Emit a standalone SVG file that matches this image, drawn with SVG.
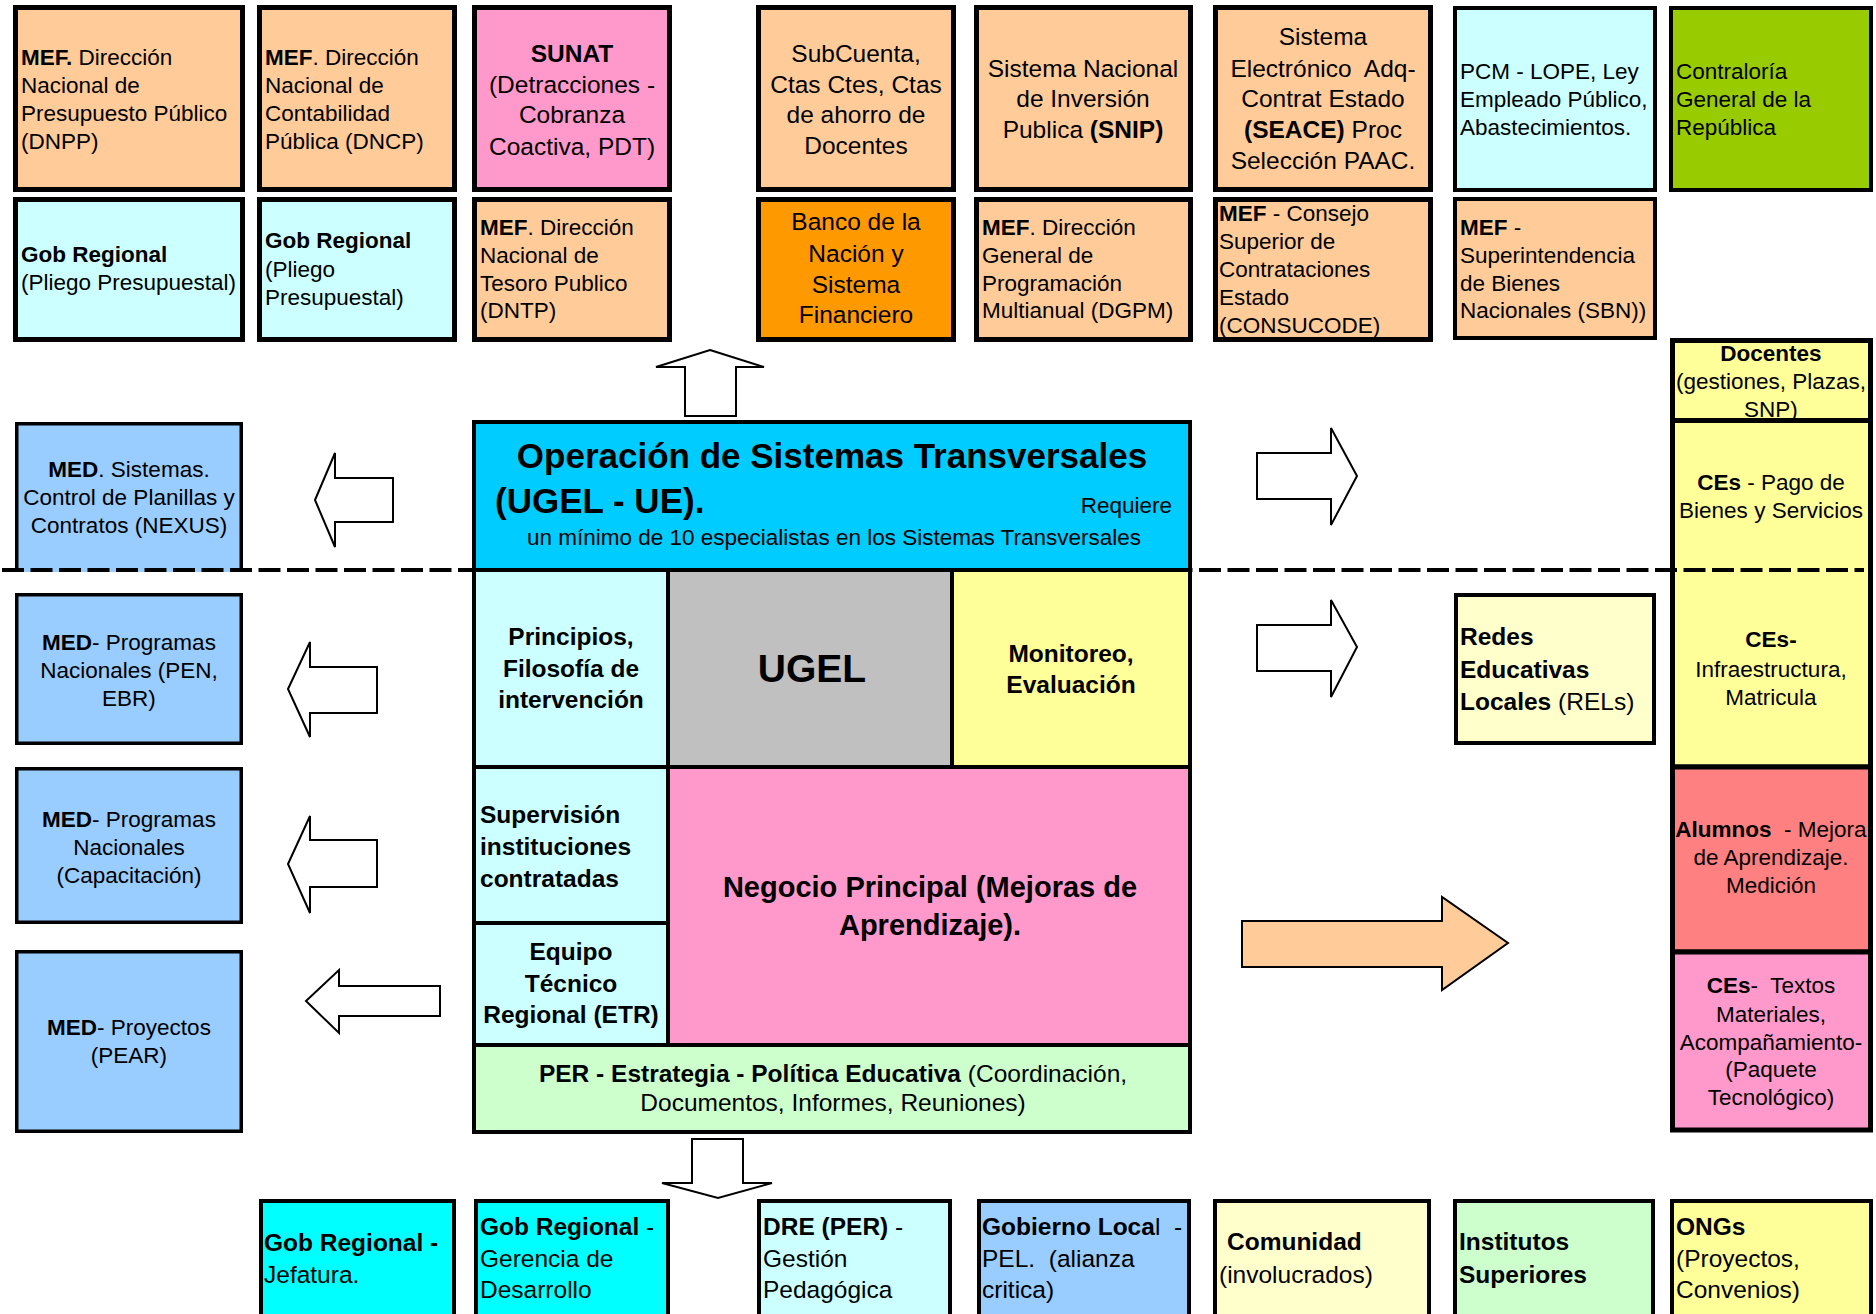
<svg xmlns="http://www.w3.org/2000/svg" width="1876" height="1314" viewBox="0 0 1876 1314">
<style>
text{font-family:"Liberation Sans",Arial,sans-serif;fill:#000}
.s{font-size:22.5px}.m{font-size:24.5px}.b{font-weight:bold}
.c{text-anchor:middle}.r{text-anchor:end}
.k5{stroke:#000;stroke-width:5}.k4{stroke:#000;stroke-width:4}.k3{stroke:#000;stroke-width:3.5}
.peach{fill:#FFCC99}.lcyan{fill:#CCFFFF}.pink{fill:#FF99CC}.orange{fill:#FF9900}.green{fill:#99CC00}
.lblue{fill:#99CCFF}.cyan{fill:#00CCFF}.gray{fill:#C0C0C0}.yel{fill:#FFFF99}.lgreen{fill:#CCFFCC}
.salmon{fill:#FF8080}.aqua{fill:#00FFFF}.lyel{fill:#FFFFCC}
.arr{fill:#fff;stroke:#000;stroke-width:2}
.pre{white-space:pre}
</style>

<!-- Top row -->
<g id="dnpp"><rect class="k5 peach" x="15.5" y="7.5" width="227" height="182"/>
<text class="s" x="21" y="65"><tspan class="b">MEF.</tspan> Dirección</text><text class="s" x="21" y="93">Nacional de</text><text class="s" x="21" y="121">Presupuesto Público</text><text class="s" x="21" y="149">(DNPP)</text></g>
<g id="gobreg1"><rect class="k5 lcyan" x="15.5" y="199.5" width="227" height="140"/>
<text class="s b" x="21" y="262">Gob Regional</text><text class="s" x="21" y="290">(Pliego Presupuestal)</text></g>

<g id="dncp"><rect class="k5 peach" x="259.5" y="7.5" width="195" height="182"/>
<text class="s" x="265" y="65"><tspan class="b">MEF</tspan>. Dirección</text><text class="s" x="265" y="93">Nacional de</text><text class="s" x="265" y="121">Contabilidad</text><text class="s" x="265" y="149">Pública (DNCP)</text></g>
<g id="gobreg2"><rect class="k5 lcyan" x="259.5" y="199.5" width="195" height="140"/>
<text class="s b" x="265" y="248">Gob Regional</text><text class="s" x="265" y="277">(Pliego</text><text class="s" x="265" y="305">Presupuestal)</text></g>

<g id="sunat"><rect class="k5 pink" x="474.5" y="7.5" width="195" height="182"/>
<text class="m b c" x="572" y="62">SUNAT</text><text class="m c" x="572" y="93">(Detracciones -</text><text class="m c" x="572" y="123">Cobranza</text><text class="m c" x="572" y="155">Coactiva, PDT)</text></g>
<g id="dntp"><rect class="k5 peach" x="474.5" y="199.5" width="195" height="140"/>
<text class="s" x="480" y="235"><tspan class="b">MEF</tspan>. Dirección</text><text class="s" x="480" y="263">Nacional de</text><text class="s" x="480" y="291">Tesoro Publico</text><text class="s" x="480" y="318">(DNTP)</text></g>

<g id="subcuenta"><rect class="k5 peach" x="758.5" y="7.5" width="195" height="182"/>
<text class="m c" x="856" y="62">SubCuenta,</text><text class="m c" x="856" y="93">Ctas Ctes, Ctas</text><text class="m c" x="856" y="123">de ahorro de</text><text class="m c" x="856" y="154">Docentes</text></g>
<g id="banco"><rect class="k5 orange" x="758.5" y="199.5" width="195" height="140"/>
<text class="m c" x="856" y="230">Banco de la</text><text class="m c" x="856" y="262">Nación y</text><text class="m c" x="856" y="293">Sistema</text><text class="m c" x="856" y="323">Financiero</text></g>

<g id="snip"><rect class="k5 peach" x="976.5" y="7.5" width="214" height="182"/>
<text class="m c" x="1083" y="77">Sistema Nacional</text><text class="m c" x="1083" y="107">de Inversión</text><text class="m c" x="1083" y="138">Publica <tspan class="b">(SNIP)</tspan></text></g>
<g id="dgpm"><rect class="k5 peach" x="976.5" y="199.5" width="214" height="140"/>
<text class="s" x="982" y="235"><tspan class="b">MEF</tspan>. Dirección</text><text class="s" x="982" y="263">General de</text><text class="s" x="982" y="291">Programación</text><text class="s" x="982" y="318">Multianual (DGPM)</text></g>

<g id="seace"><rect class="k5 peach" x="1215.5" y="7.5" width="215" height="182"/>
<text class="m c" x="1323" y="45">Sistema</text><text class="m c pre" x="1323" y="77">Electrónico  Adq-</text><text class="m c" x="1323" y="107">Contrat Estado</text><text class="m c" x="1323" y="138"><tspan class="b">(SEACE)</tspan> Proc</text><text class="m c" x="1323" y="169">Selección PAAC.</text></g>
<g id="consucode"><rect class="k5 peach" x="1215.5" y="199.5" width="215" height="140"/>
<text class="s" x="1219" y="221"><tspan class="b">MEF</tspan> - Consejo</text><text class="s" x="1219" y="249">Superior de</text><text class="s" x="1219" y="277">Contrataciones</text><text class="s" x="1219" y="305">Estado</text><text class="s" x="1219" y="333">(CONSUCODE)</text></g>

<g id="pcm"><rect class="k4 lcyan" x="1455" y="8" width="200" height="182"/>
<text class="s" x="1460" y="79">PCM - LOPE, Ley</text><text class="s" x="1460" y="107">Empleado Público,</text><text class="s" x="1460" y="135">Abastecimientos.</text></g>
<g id="sbn"><rect class="k4 peach" x="1455" y="199" width="200" height="139"/>
<text class="s" x="1460" y="235"><tspan class="b">MEF</tspan> -</text><text class="s" x="1460" y="263">Superintendencia</text><text class="s" x="1460" y="291">de Bienes</text><text class="s" x="1460" y="318">Nacionales (SBN))</text></g>

<g id="contraloria"><rect class="k4 green" x="1671" y="8" width="200" height="182"/>
<text class="s" x="1676" y="79">Contraloría</text><text class="s" x="1676" y="107">General de la</text><text class="s" x="1676" y="135">República</text></g>

<!-- Left column -->
<g id="nexus"><rect class="lblue" x="15" y="422" width="228" height="150"/>
<path d="M16.75,572 V423.75 H241.25 V572" fill="none" stroke="#000" stroke-width="3.5"/>
<text class="s c" x="129" y="477"><tspan class="b">MED</tspan>. Sistemas.</text><text class="s c" x="129" y="505">Control de Planillas y</text><text class="s c" x="129" y="533">Contratos (NEXUS)</text></g>
<g id="pen"><rect class="k3 lblue" x="16.75" y="594.75" width="224.5" height="148.5"/>
<text class="s c" x="129" y="650"><tspan class="b">MED</tspan>- Programas</text><text class="s c" x="129" y="678">Nacionales (PEN,</text><text class="s c" x="129" y="706">EBR)</text></g>
<g id="capacitacion"><rect class="k3 lblue" x="16.75" y="768.75" width="224.5" height="153.5"/>
<text class="s c" x="129" y="827"><tspan class="b">MED</tspan>- Programas</text><text class="s c" x="129" y="855">Nacionales</text><text class="s c" x="129" y="883">(Capacitación)</text></g>
<g id="pear"><rect class="k3 lblue" x="16.75" y="951.75" width="224.5" height="179.5"/>
<text class="s c" x="129" y="1035"><tspan class="b">MED</tspan>- Proyectos</text><text class="s c" x="129" y="1063">(PEAR)</text></g>

<!-- Central block -->
<g id="sistemas-transversales"><rect class="k4 cyan" x="474" y="422" width="716" height="148"/>
<text class="b c" style="font-size:35px" x="832" y="468">Operación de Sistemas Transversales</text>
<text class="b" style="font-size:35px" x="495" y="513">(UGEL - UE).</text>
<text class="s r" x="1172" y="513">Requiere</text>
<text class="s c" x="834" y="545">un mínimo de 10 especialistas en los Sistemas Transversales</text></g>
<g id="principios"><rect class="k4 lcyan" x="474" y="570" width="194" height="197"/>
<text class="m b c" x="571" y="645">Principios,</text><text class="m b c" x="571" y="677">Filosofía de</text><text class="m b c" x="571" y="708">intervención</text></g>
<g id="ugel"><rect class="k4 gray" x="668" y="570" width="284" height="197"/>
<text class="b c" style="font-size:39px" x="812" y="682">UGEL</text></g>
<g id="monitoreo"><rect class="k4 yel" x="952" y="570" width="238" height="197"/>
<text class="m b c" x="1071" y="662">Monitoreo,</text><text class="m b c" x="1071" y="693">Evaluación</text></g>
<g id="supervision"><rect class="k4 lcyan" x="474" y="767" width="194" height="156"/>
<text class="m b" x="480" y="823">Supervisión</text><text class="m b" x="480" y="855">instituciones</text><text class="m b" x="480" y="887">contratadas</text></g>
<g id="etr"><rect class="k4 lcyan" x="474" y="923" width="194" height="122"/>
<text class="m b c" x="571" y="960">Equipo</text><text class="m b c" x="571" y="992">Técnico</text><text class="m b c" x="571" y="1023">Regional (ETR)</text></g>
<g id="negocio"><rect class="k4 pink" x="668" y="767" width="522" height="278"/>
<text class="b c" style="font-size:29px" x="930" y="897">Negocio Principal (Mejoras de</text><text class="b c" style="font-size:29px" x="930" y="935">Aprendizaje).</text></g>
<g id="per"><rect class="k4 lgreen" x="474" y="1045" width="716" height="87"/>
<text class="m c" x="833" y="1082"><tspan class="b">PER - Estrategia - Política Educativa</tspan> (Coordinación,</text>
<text class="m c" x="833" y="1111">Documentos, Informes, Reuniones)</text></g>

<!-- Right side -->
<g id="redes"><rect class="k4 lyel" x="1456" y="595" width="198" height="148"/>
<text class="m b" x="1460" y="645">Redes</text><text class="m b" x="1460" y="678">Educativas</text><text class="m" x="1460" y="710"><tspan class="b">Locales</tspan> (RELs)</text></g>
<g id="docentes"><rect class="k5 yel" x="1672.5" y="340.5" width="198" height="80"/>
<text class="s b c" x="1771" y="361">Docentes</text><text class="s c" x="1771" y="389">(gestiones, Plazas,</text><text class="s c" x="1771" y="417">SNP)</text></g>
<g id="ces-pago"><rect class="k5 yel" x="1672.5" y="420.5" width="198" height="346.5"/>
<text class="s c" x="1771" y="490"><tspan class="b">CEs</tspan> - Pago de</text><text class="s c" x="1771" y="518">Bienes y Servicios</text></g>
<g id="ces-infra">
<text class="s b c" x="1771" y="647">CEs-</text><text class="s c" x="1771" y="677">Infraestructura,</text><text class="s c" x="1771" y="705">Matricula</text></g>
<g id="alumnos"><rect class="k5 salmon" x="1672.5" y="767" width="198" height="185"/>
<text class="s c pre" x="1771" y="837"><tspan class="b">Alumnos</tspan>  - Mejora</text><text class="s c" x="1771" y="865">de Aprendizaje.</text><text class="s c" x="1771" y="893">Medición</text></g>
<g id="ces-textos"><rect class="k5 pink" x="1672.5" y="952" width="198" height="178"/>
<text class="s c pre" x="1771" y="993"><tspan class="b">CEs</tspan>-  Textos</text><text class="s c" x="1771" y="1022">Materiales,</text><text class="s c" x="1771" y="1050">Acompañamiento-</text><text class="s c" x="1771" y="1077">(Paquete</text><text class="s c" x="1771" y="1105">Tecnológico)</text></g>

<!-- Bottom row -->
<g id="gr-jefatura"><rect class="k4 aqua" x="261" y="1201" width="193" height="130"/>
<text class="m b" x="264" y="1251">Gob Regional -</text><text class="m" x="264" y="1283">Jefatura.</text></g>
<g id="gr-gerencia"><rect class="k4 aqua" x="476" y="1201" width="192" height="130"/>
<text class="m" x="480" y="1235"><tspan class="b">Gob Regional</tspan> -</text><text class="m" x="480" y="1267">Gerencia de</text><text class="m" x="480" y="1298">Desarrollo</text></g>
<g id="dre"><rect class="k4 lcyan" x="759" y="1201" width="191" height="130"/>
<text class="m" x="763" y="1235"><tspan class="b">DRE (PER)</tspan> -</text><text class="m" x="763" y="1267">Gestión</text><text class="m" x="763" y="1298">Pedagógica</text></g>
<g id="gob-local"><rect class="k4 lblue" x="979" y="1201" width="210" height="130"/>
<text class="m pre" x="982" y="1235"><tspan class="b">Gobierno Loca</tspan>l  -</text><text class="m pre" x="982" y="1267">PEL.  (alianza</text><text class="m" x="982" y="1298">critica)</text></g>
<g id="comunidad"><rect class="k4 lyel" x="1215" y="1201" width="214" height="130"/>
<text class="m b" x="1227" y="1250">Comunidad</text><text class="m" x="1219" y="1283">(involucrados)</text></g>
<g id="institutos"><rect class="k4 lgreen" x="1455" y="1201" width="198" height="130"/>
<text class="m b" x="1459" y="1250">Institutos</text><text class="m b" x="1459" y="1283">Superiores</text></g>
<g id="ongs"><rect class="k4 yel" x="1672" y="1201" width="199" height="130"/>
<text class="m b" x="1676" y="1235">ONGs</text><text class="m" x="1676" y="1267">(Proyectos,</text><text class="m" x="1676" y="1298">Convenios)</text></g>

<!-- Divider -->
<g id="divider"><line x1="2" y1="570" x2="1864" y2="570" stroke="#000" stroke-width="4" stroke-dasharray="22,6.5"/></g>

<!-- Connectors (block arrows) -->
<g id="connectors">
<polygon class="arr" points="710,350 764,367 736,367 736,416 685,416 685,367 656,367"/>
<polygon class="arr" points="315,500 335,453 335,478 393,478 393,522 335,522 335,547"/>
<polygon class="arr" points="288,689 310,642 310,667 377,667 377,713 310,713 310,737"/>
<polygon class="arr" points="288,864 310,816 310,840 377,840 377,887 310,887 310,913"/>
<polygon class="arr" points="306,1001 339,970 339,986 440,986 440,1016 339,1016 339,1033"/>
<polygon class="arr" points="1257,453 1331,453 1331,428 1357,476 1331,525 1331,499 1257,499"/>
<polygon class="arr" points="1257,625 1331,625 1331,600 1357,647 1331,697 1331,671 1257,671"/>
<polygon points="1242,921 1442,921 1442,897 1508,943 1442,990 1442,967 1242,967" fill="#FFCC99" stroke="#000" stroke-width="2"/>
<polygon class="arr" points="692,1139 743,1139 743,1183 772,1183 718,1198 662,1183 692,1183"/>
</g>
</svg>
